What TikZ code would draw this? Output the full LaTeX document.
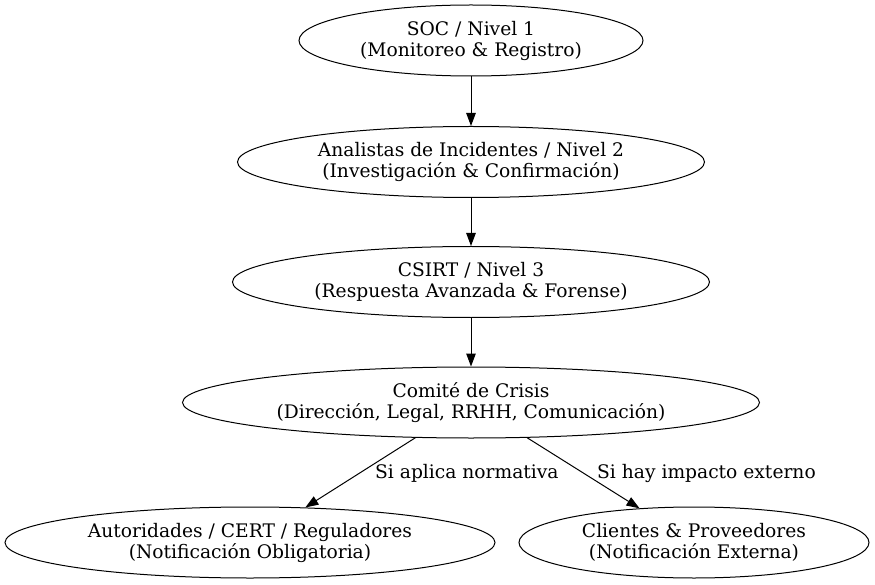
\documentclass[tikz,border=0pt]{standalone}
\usepackage{fontspec}
\setmainfont{DejaVu Serif}
\usetikzlibrary{shapes.geometric,arrows.meta}
\begin{document}
\begin{tikzpicture}[x=1pt,y=-1pt,
  lbl/.style={font=\fontsize{18.67}{21}\selectfont},
  elli/.style={draw, ellipse, line width=1pt, inner sep=0pt, align=center, lbl},
  conn/.style={line width=1pt, -{Triangle[length=13pt,width=9.5pt]}},
  elabel/.style={lbl, anchor=west, inner sep=0pt}
]
\useasboundingbox (0,0) rectangle (875,585);
\node[elli, minimum width=344pt, minimum height=71pt] (soc) at (471,40.5) {SOC / Nivel 1\\(Monitoreo \& Registro)};
\node[elli, minimum width=467pt, minimum height=71pt] (ana) at (471,162) {Analistas de Incidentes / Nivel 2\\(Investigación \& Confirmación)};
\node[elli, minimum width=477pt, minimum height=71pt] (csirt) at (471,282) {CSIRT / Nivel 3\\(Respuesta Avanzada \& Forense)};
\node[elli, minimum width=577pt, minimum height=71pt] (crisis) at (471,402.5) {Comité de Crisis\\(Dirección, Legal, RRHH, Comunicación)};
\node[elli, minimum width=490pt, minimum height=71pt] (aut) at (250,542.5) {Autoridades / CERT / Reguladores\\(Notificación Obligatoria)};
\node[elli, minimum width=350pt, minimum height=71pt] (cli) at (694,542.5) {Clientes \& Proveedores\\(Notificación Externa)};
\draw[conn] (soc) -- (ana);
\draw[conn] (ana) -- (csirt);
\draw[conn] (csirt) -- (crisis);
\draw[conn] (crisis) -- (aut);
\draw[conn] (crisis) -- (cli);
\node[elabel] (l1) at (375,473) {Si aplica normativa};
\node[elabel] (l2) at (597,473) {Si hay impacto externo};
\end{tikzpicture}
\end{document}
